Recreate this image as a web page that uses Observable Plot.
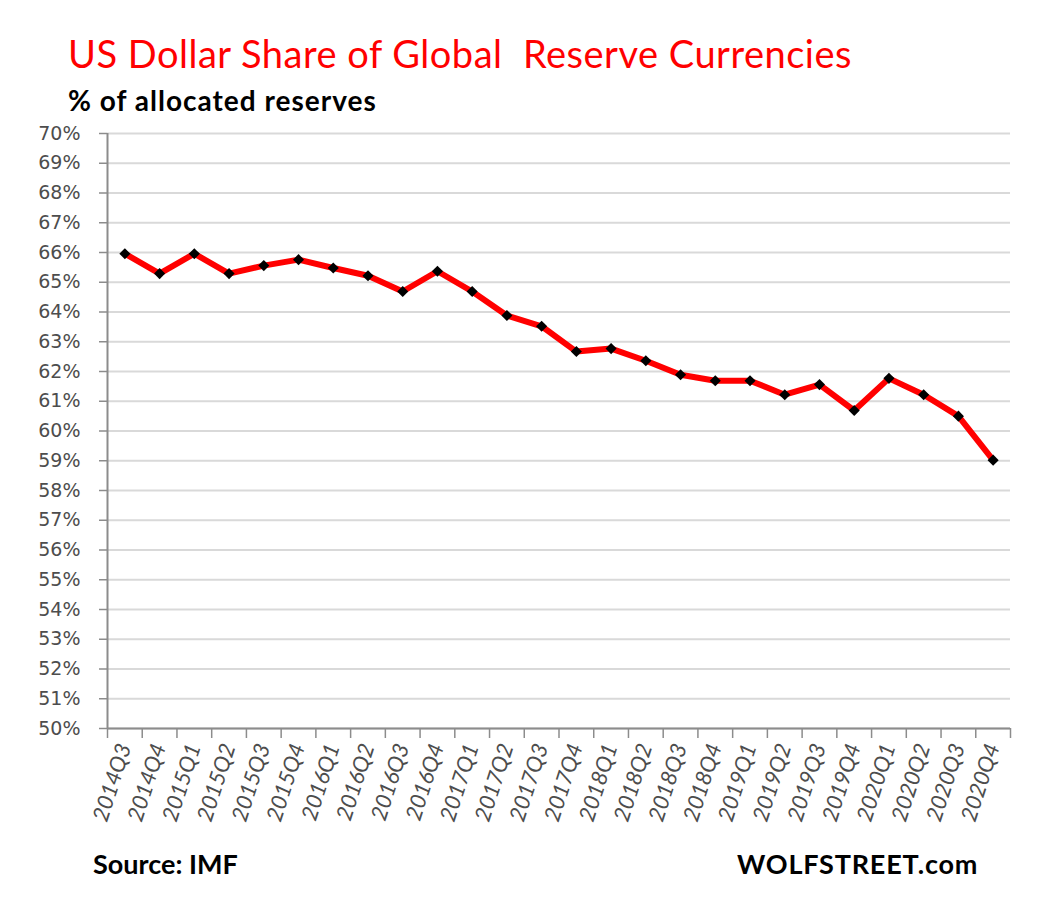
<!DOCTYPE html>
<html><head><meta charset="utf-8">
<script src="https://cdn.jsdelivr.net/npm/d3@7"></script>
<script src="https://cdn.jsdelivr.net/npm/@observablehq/plot@0.6"></script>
<style>
html,body{margin:0;padding:0;background:#fff}
body{width:1052px;height:910px;position:relative;overflow:hidden;font-family:Lato,"Open Sans",sans-serif}
.t{position:absolute;white-space:nowrap;line-height:1;margin:0}
#title{left:68px;top:34px;color:#ff0000;font-size:38px;font-weight:400;letter-spacing:0.5px}
#subtitle{left:68px;top:86px;color:#000;font-size:28px;font-weight:700;letter-spacing:1px}
#source{left:93px;top:850px;color:#000;font-size:27px;font-weight:700}
#brand{left:737px;top:850px;color:#000;font-size:27px;font-weight:700;letter-spacing:0.8px}
#chart{position:absolute;left:0;top:120px}
</style>
</head><body>
<div id="title" class="t">US Dollar Share of Global&nbsp; Reserve Currencies</div>
<div id="subtitle" class="t">% of allocated reserves</div>
<div id="chart"></div>
<div id="source" class="t">Source: IMF</div>
<div id="brand" class="t">WOLFSTREET.com</div>
<script>
const quarters = ["2014Q3","2014Q4","2015Q1","2015Q2","2015Q3","2015Q4","2016Q1","2016Q2","2016Q3","2016Q4",
  "2017Q1","2017Q2","2017Q3","2017Q4","2018Q1","2018Q2","2018Q3","2018Q4","2019Q1","2019Q2","2019Q3","2019Q4",
  "2020Q1","2020Q2","2020Q3","2020Q4"];
const usdShare = [65.96,65.29,65.96,65.29,65.56,65.76,65.48,65.22,64.69,65.37,
  64.69,63.88,63.52,62.67,62.77,62.36,61.89,61.69,61.69,61.22,61.56,60.69,
  61.77,61.22,60.50,59.02];
const yTicks = [50,51,52,53,54,55,56,57,58,59,60,61,62,63,64,65,66,67,68,69,70];

const data = quarters.map((q, i) => ({q, i, v: usdShare[i]}));
const idx = d3.range(quarters.length);
const bounds = d3.range(quarters.length + 1).map(i => i - 0.5);

const axisGray = "#8c8c8c";
const chart = Plot.plot({
  width: 1052,
  height: 720,
  marginLeft: 107,
  marginRight: 42,
  marginTop: 13,
  marginBottom: 112,
  x: {type: "linear", domain: [-0.5, quarters.length - 0.5]},
  y: {domain: [50, 70]},
  style: {background: "transparent", overflow: "visible"},
  marks: [
    Plot.gridY(yTicks, {stroke: "#d9d9d9", strokeOpacity: 1, strokeWidth: 2}),
    Plot.axisY(yTicks, {tickFormat: d => d + "%", tickSize: 8, tickPadding: 19, stroke: axisGray,
      strokeWidth: 1.5, fontSize: 19, fill: "#4d4d4d", fontFamily: "DejaVu Sans", label: null}),
    Plot.axisX(bounds, {tickSize: 10, tickFormat: () => "", stroke: axisGray, strokeWidth: 1.5, label: null}),
    Plot.axisX(idx, {tickFormat: i => quarters[i], tickSize: 0, tickPadding: 16, tickRotate: -72,
      fontSize: 22, fontStyle: "italic", fill: "#4d4d4d", fontFamily: "Lato", label: null}),
    Plot.ruleY([50], {stroke: axisGray, strokeWidth: 2}),
    Plot.ruleX([-0.5], {stroke: axisGray, strokeWidth: 2}),
    Plot.line(data, {x: "i", y: "v", stroke: "#ff0000", strokeWidth: 6, strokeLinejoin: "round"}),
    Plot.dot(data, {x: "i", y: "v", symbol: "diamond2", r: 5, fill: "#000", stroke: "none"})
  ]
});
document.getElementById("chart").appendChild(chart);
</script>
</body></html>
